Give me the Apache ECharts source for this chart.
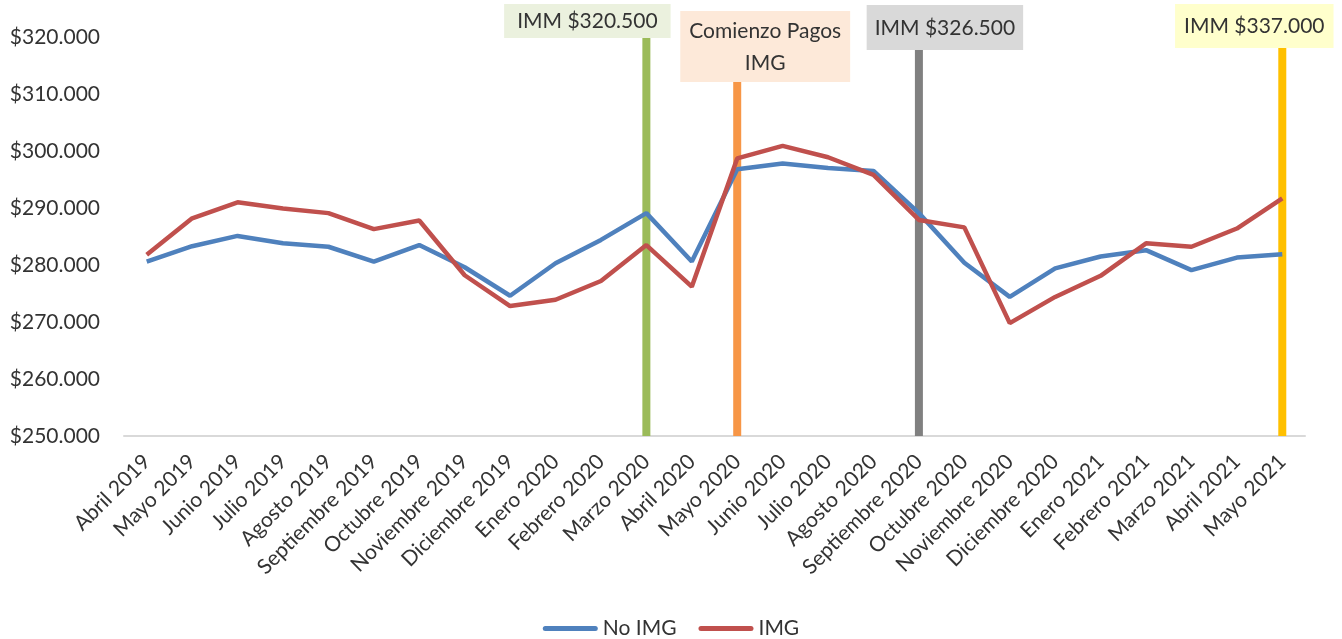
<!DOCTYPE html>
<html>
<head>
<meta charset="utf-8">
<title>IMG vs No IMG</title>
<script src="https://cdn.jsdelivr.net/npm/echarts@6/dist/echarts.min.js"></script>
<style>
  html, body { margin: 0; padding: 0; background: #fff; }
  #chart { width: 1342px; height: 639px; }
</style>
</head>
<body>
<div id="chart"></div>
<script>
  // datos
  const months = ['Abril 2019', 'Mayo 2019', 'Junio 2019', 'Julio 2019', 'Agosto 2019', 'Septiembre 2019',
    'Octubre 2019', 'Noviembre 2019', 'Diciembre 2019', 'Enero 2020', 'Febrero 2020', 'Marzo 2020',
    'Abril 2020', 'Mayo 2020', 'Junio 2020', 'Julio 2020', 'Agosto 2020', 'Septiembre 2020',
    'Octubre 2020', 'Noviembre 2020', 'Diciembre 2020', 'Enero 2021', 'Febrero 2021', 'Marzo 2021',
    'Abril 2021', 'Mayo 2021'];
  const noImg = [280600, 283300, 285100, 283800, 283200, 280600, 283500, 279600, 274600, 280300, 284400, 289100,
    280600, 296800, 297800, 297000, 296500, 289100, 280400, 274400, 279400, 281500, 282600, 279100, 281300, 281900];
  const img = [281800, 288200, 291000, 289900, 289100, 286300, 287800, 278200, 272800, 273900, 277200, 283500,
    276200, 298700, 300900, 298900, 295800, 287900, 286600, 269800, 274400, 278100, 283800, 283200, 286400, 291700];
  const eventMonths = ['Marzo 2020', 'Mayo 2020', 'Septiembre 2020', 'Mayo 2021'];
  const eventValues = [320500, 320000, 326500, 337000];
  const eventLabels = ['IMM $320.500', 'Comienzo Pagos\nIMG', 'IMM $326.500', 'IMM $337.000'];

  // estilos de las barras de eventos
  const eventStyles = [
    { color: '#9BBB59', bg: '#EBF1DE', padding: [1, 13, 1, 13], offset: [-59, 1] },
    { color: '#F79646', bg: '#FDE9D9', padding: [4, 9, 3, 9], offset: [28, 45] },
    { color: '#808080', bg: '#D9D9D9', padding: [7, 8, 6, 8], offset: [26, 13] },
    { color: '#FFC000', bg: '#FFFFCC', padding: [6, 9, 6, 9], offset: [-28, 11] }
  ];

  const font = 'Lato, "Open Sans", sans-serif';
  const txt = '#333333';

  const eventData = months.map(m => {
    const i = eventMonths.indexOf(m);
    if (i < 0) return '-';
    const s = eventStyles[i];
    return {
      value: eventValues[i],
      itemStyle: { color: s.color },
      label: {
        show: true,
        position: 'top',
        distance: 0,
        formatter: eventLabels[i],
        backgroundColor: s.bg,
        padding: s.padding,
        offset: s.offset,
        color: txt,
        fontFamily: font,
        fontSize: 21,
        lineHeight: 32
      }
    };
  });

  function money(v) {
    return '$' + String(v).replace(/\B(?=(\d{3})+(?!\d))/g, '.');
  }

  const chart = echarts.init(document.getElementById('chart'));
  chart.setOption({
    animation: false,
    textStyle: { fontFamily: font },
    grid: { left: 124, right: 37, top: 37, bottom: 203 },
    legend: {
      data: ['No IMG', 'IMG'],
      left: 'center',
      top: 618,
      padding: 0,
      itemWidth: 55,
      itemHeight: 5,
      itemGap: 22,
      icon: 'path://M2.5,0 H52.5 A2.5,2.5 0 0 1 52.5,5 H2.5 A2.5,2.5 0 0 1 2.5,0 Z',
      textStyle: { color: txt, fontSize: 21, fontFamily: font }
    },
    xAxis: {
      type: 'category',
      data: months,
      boundaryGap: true,
      axisLine: { lineStyle: { color: '#D9D9D9', width: 2 } },
      axisTick: { show: false },
      axisLabel: {
        rotate: 45,
        interval: 0,
        margin: 22,
        color: txt,
        fontSize: 21,
        fontFamily: font
      }
    },
    yAxis: {
      type: 'value',
      min: 250000,
      max: 320000,
      interval: 10000,
      axisLine: { show: false },
      axisTick: { show: false },
      splitLine: { show: false },
      axisLabel: {
        margin: 24,
        color: txt,
        fontSize: 21,
        fontFamily: font,
        formatter: money
      }
    },
    series: [
      {
        name: 'Eventos',
        type: 'bar',
        barWidth: 8,
        clip: true,
        data: eventData
      },
      {
        name: 'No IMG',
        type: 'line',
        data: noImg,
        symbol: 'none',
        lineStyle: { color: '#4F81BD', width: 4.5 },
        itemStyle: { color: '#4F81BD' }
      },
      {
        name: 'IMG',
        type: 'line',
        data: img,
        symbol: 'none',
        lineStyle: { color: '#C0504D', width: 4.5 },
        itemStyle: { color: '#C0504D' }
      }
    ]
  });
</script>
</body>
</html>
